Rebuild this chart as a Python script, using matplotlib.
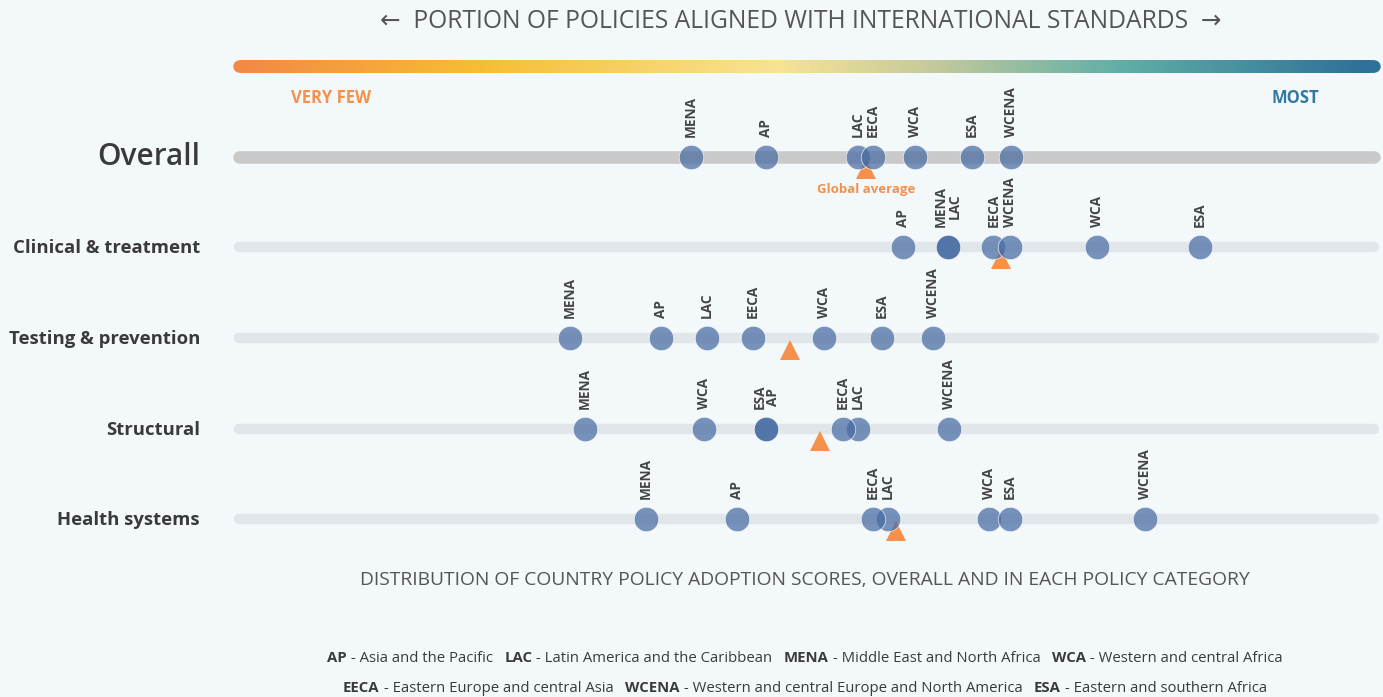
import numpy as np
import matplotlib
matplotlib.use("Agg")
import matplotlib.pyplot as plt
from matplotlib.collections import LineCollection
from matplotlib.colors import LinearSegmentedColormap

# Region codes and scores (0-100 share of policies aligned), one list per row.
regions = ['AP', 'LAC', 'MENA', 'WCA', 'EECA', 'WCENA', 'ESA']
categories = ['Overall', 'Clinical & treatment', 'Testing & prevention',
              'Structural', 'Health systems']
overall = [46.5, 54.5, 39.9, 59.5, 55.8, 67.8, 64.4]
clinical = [58.4, 62.3, 62.3, 75.3, 66.3, 67.7, 84.3]
testing = [37.3, 41.3, 29.4, 51.5, 45.3, 61.0, 56.6]
structural = [46.5, 54.5, 30.7, 41.1, 53.2, 62.4, 46.5]
health = [43.9, 57.1, 36.0, 65.9, 55.8, 79.5, 67.7]
global_avg = [55.2, 67.0, 48.6, 51.2, 57.8]

legend_items = [
    [('AP', 'Asia and the Pacific'), ('LAC', 'Latin America and the Caribbean'),
     ('MENA', 'Middle East and North Africa'), ('WCA', 'Western and central Africa')],
    [('EECA', 'Eastern Europe and central Asia'),
     ('WCENA', 'Western and central Europe and North America'),
     ('ESA', 'Eastern and southern Africa')],
]

BG = '#f3f8fb'
ORANGE = '#f5914a'
BLUE = '#2f7a9e'
DOT = '#476ba2'
TXT = '#3a3a3a'
FONT = ['Open Sans', 'DejaVu Sans']

plt.rcParams['font.family'] = FONT

fig = plt.figure(figsize=(13.83, 6.97), dpi=100, facecolor=BG)
ax = fig.add_axes([0, 0, 1, 1])
ax.set_facecolor(BG)
# x in score units (0 -> left end of track, 100 -> right end), y in pixels from top
px_per = (1380 - 233) / 100


def px(x):
    # pixel column -> score units, for placing text
    return (x - 233) / px_per


ax.set_xlim(px(0), px(1383))
ax.set_ylim(697, 0)
ax.axis('off')

# gradient bar across the top
grad = LinearSegmentedColormap.from_list('g', [
    (0.0, '#f28945'), (0.21, '#f6bd33'), (0.48, '#f7e395'),
    (0.62, '#c4c99a'), (0.78, '#62b0a6'), (1.0, '#2e7299')])
cap = 6 / px_per
xs = np.linspace(2 * cap, 100 - 2 * cap, 300)
segs = [[(xs[i], 66), (xs[i + 1], 66)] for i in range(len(xs) - 1)]
ax.plot([cap, 3 * cap], [66, 66], color=grad(0.0), lw=9, solid_capstyle='round')
ax.plot([100 - 3 * cap, 100 - cap], [66, 66], color=grad(1.0), lw=9,
        solid_capstyle='round')
lc = LineCollection(segs, colors=grad(np.linspace(0, 1, len(segs))),
                    linewidths=9, capstyle='projecting')
ax.add_collection(lc)

ax.text(px(801), 21, '\u2190  PORTION OF POLICIES ALIGNED WITH INTERNATIONAL STANDARDS  \u2192',
        ha='center', va='center', fontsize=17.7, color='#555555')

ax.text(px(291), 98, 'VERY FEW', color=ORANGE, fontsize=12,
        fontweight='bold', ha='left', va='center')
ax.text(px(1319), 98, 'MOST', color=BLUE, fontsize=12,
        fontweight='bold', ha='right', va='center')

rows = [overall, clinical, testing, structural, health]
row_y = [157, 247, 338, 429, 519]

for i, (name, vals, avg, y) in enumerate(zip(categories, rows, global_avg, row_y)):
    if i == 0:
        ax.plot([cap, 100 - cap], [y, y], color='#c9c9c9', lw=9,
                solid_capstyle='round', zorder=1)
        ax.text(px(200), y, name, ha='right', va='center',
                fontsize=21.5, fontweight='semibold', color=TXT)
    else:
        ax.plot([cap, 100 - cap], [y, y], color='#e1e6ea', lw=7.5,
                solid_capstyle='round', zorder=1)
        ax.text(px(200), y + 1, name, ha='right', va='center',
                fontsize=13.3, fontweight='bold', color=TXT)

    ax.scatter(vals, [y] * len(vals), s=310, color=DOT, alpha=0.72,
               edgecolors='white', linewidths=0.6, zorder=3)
    ax.plot([avg], [y + 12], marker='^', markersize=14, color=ORANGE,
            markeredgewidth=0, zorder=2)

    # labels: regions with identical scores share one stacked label
    groups = {}
    for j in range(len(regions) - 1, -1, -1):
        groups.setdefault(vals[j], []).append(regions[j])
    for v, names in groups.items():
        ax.text(v, y - 20, '\n'.join(names), rotation=90, ha='center',
                va='bottom', fontsize=9.8, fontweight='bold', color='#444444',
                linespacing=0.95)

ax.text(global_avg[0], 190, 'Global average', ha='center', va='center',
        fontsize=9.5, fontweight='bold', color=ORANGE)

ax.text(px(805), 580,
        'DISTRIBUTION OF COUNTRY POLICY ADOPTION SCORES, OVERALL AND IN EACH POLICY CATEGORY',
        ha='center', va='center', fontsize=13.9, color='#555555')

# legend lines: bold code + regular description, centred as a whole
fig.canvas.draw()
renderer = fig.canvas.get_renderer()
for line, ly in zip(legend_items, [658, 688]):
    pieces = []
    for k, (code, desc) in enumerate(line):
        pieces.append((code, 'bold'))
        pieces.append((' - ' + desc + ('   ' if k < len(line) - 1 else ''), 'normal'))
    arts = []
    for s, w in pieces:
        t = ax.text(0, ly, s, ha='left', va='center', fontsize=10.7,
                    fontweight=w, color=TXT)
        arts.append(t)
    widths = [t.get_window_extent(renderer).width for t in arts]
    total = sum(widths)
    x = 805 - total / 2
    for t, wd in zip(arts, widths):
        t.set_x(px(x))
        x += wd

fig.savefig('out.png', dpi=100, facecolor=BG)
